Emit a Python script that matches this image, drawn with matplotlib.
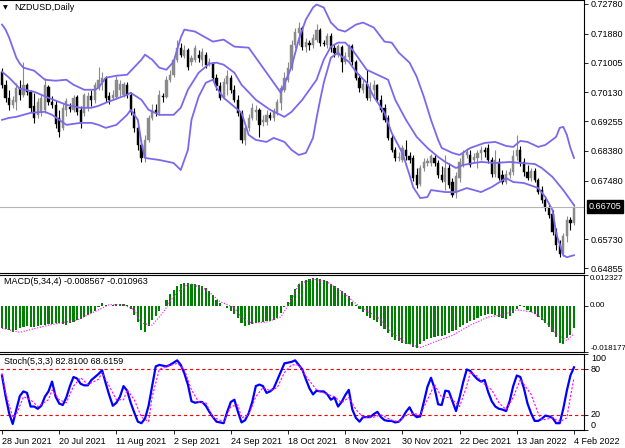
import matplotlib
matplotlib.use("Agg")
import matplotlib.pyplot as plt
import matplotlib.transforms as mtransforms
import numpy as np

plt.rcParams['font.family'] = ['Liberation Sans', 'DejaVu Sans']

# NZDUSD daily candles, 28 Jun 2021 .. 4 Feb 2022
opens = [0.7074, 0.7035, 0.6996, 0.6975, 0.6984, 0.7026, 0.7005, 0.7035, 0.7014, 0.6972,
         0.6945, 0.6954, 0.6960, 0.7029, 0.6984, 0.6975, 0.6936, 0.6906, 0.6960, 0.6969,
         0.6960, 0.6999, 0.6960, 0.6951, 0.6966, 0.7002, 0.6990, 0.7026, 0.7044, 0.7056,
         0.7002, 0.6996, 0.6999, 0.7020, 0.7005, 0.7035, 0.7005, 0.6954, 0.6906, 0.6855,
         0.6816, 0.6870, 0.6936, 0.6960, 0.6951, 0.7002, 0.6999, 0.7050, 0.7065, 0.7110,
         0.7146, 0.7122, 0.7140, 0.7104, 0.7110, 0.7125, 0.7110, 0.7125, 0.7101, 0.7101,
         0.7056, 0.7032, 0.6999, 0.7038, 0.7056, 0.7020, 0.6990, 0.6951, 0.6870, 0.6906,
         0.6936, 0.6954, 0.6960, 0.6924, 0.6924, 0.6945, 0.6936, 0.6954, 0.6981, 0.7020,
         0.7050, 0.7086, 0.7155, 0.7191, 0.7206, 0.7149, 0.7161, 0.7155, 0.7170, 0.7200,
         0.7161, 0.7155, 0.7182, 0.7146, 0.7125, 0.7149, 0.7104, 0.7119, 0.7152, 0.7104,
         0.7056, 0.7020, 0.7038, 0.6996, 0.7020, 0.7035, 0.6990, 0.6966, 0.6936, 0.6876,
         0.6840, 0.6816, 0.6810, 0.6840, 0.6822, 0.6816, 0.6765, 0.6738, 0.6786, 0.6801,
         0.6801, 0.6816, 0.6801, 0.6765, 0.6744, 0.6786, 0.6744, 0.6711, 0.6756, 0.6795,
         0.6825, 0.6825, 0.6810, 0.6816, 0.6831, 0.6840, 0.6846, 0.6810, 0.6768, 0.6804,
         0.6765, 0.6744, 0.6765, 0.6774, 0.6822, 0.6840, 0.6804, 0.6774, 0.6756, 0.6777,
         0.6750, 0.6720, 0.6690, 0.6666, 0.6648, 0.6594, 0.6555, 0.6531, 0.6582, 0.6630,
         0.6621]
highs = [0.7086, 0.7050, 0.7020, 0.7002, 0.7041, 0.7050, 0.7104, 0.7041, 0.7020, 0.7011,
         0.6996, 0.7005, 0.7056, 0.7035, 0.7002, 0.6990, 0.6960, 0.6978, 0.6996, 0.6981,
         0.7005, 0.7005, 0.6972, 0.7011, 0.7014, 0.7020, 0.7044, 0.7089, 0.7074, 0.7062,
         0.7014, 0.7020, 0.7062, 0.7050, 0.7044, 0.7044, 0.7014, 0.6966, 0.6915, 0.6870,
         0.6885, 0.6945, 0.6978, 0.6978, 0.7020, 0.7011, 0.7062, 0.7080, 0.7116, 0.7170,
         0.7161, 0.7155, 0.7146, 0.7125, 0.7155, 0.7140, 0.7146, 0.7134, 0.7116, 0.7104,
         0.7068, 0.7044, 0.7056, 0.7080, 0.7065, 0.7035, 0.7005, 0.6960, 0.6915, 0.6948,
         0.6981, 0.6975, 0.6966, 0.6945, 0.6960, 0.6954, 0.6966, 0.6993, 0.7035, 0.7074,
         0.7104, 0.7170, 0.7206, 0.7224, 0.7212, 0.7176, 0.7170, 0.7188, 0.7218, 0.7206,
         0.7170, 0.7191, 0.7191, 0.7158, 0.7158, 0.7155, 0.7134, 0.7158, 0.7158, 0.7110,
         0.7068, 0.7050, 0.7080, 0.7044, 0.7050, 0.7038, 0.7005, 0.6978, 0.6945, 0.6888,
         0.6849, 0.6834, 0.6855, 0.6870, 0.6834, 0.6825, 0.6786, 0.6795, 0.6816, 0.6816,
         0.6828, 0.6825, 0.6810, 0.6792, 0.6825, 0.6801, 0.6756, 0.6774, 0.6816, 0.6840,
         0.6846, 0.6840, 0.6831, 0.6840, 0.6852, 0.6849, 0.6858, 0.6819, 0.6840, 0.6816,
         0.6780, 0.6780, 0.6786, 0.6840, 0.6885, 0.6852, 0.6816, 0.6795, 0.6786, 0.6786,
         0.6756, 0.6732, 0.6702, 0.6678, 0.6660, 0.6606, 0.6570, 0.6591, 0.6642, 0.6639,
         0.6678]
lows = [0.7026, 0.6984, 0.6960, 0.6966, 0.6960, 0.6990, 0.6999, 0.7005, 0.6954, 0.6921,
        0.6936, 0.6942, 0.6951, 0.6975, 0.6966, 0.6906, 0.6879, 0.6900, 0.6942, 0.6954,
        0.6954, 0.6945, 0.6906, 0.6942, 0.6957, 0.6972, 0.6981, 0.7020, 0.7020, 0.6984,
        0.6978, 0.6990, 0.6993, 0.7002, 0.6999, 0.6996, 0.6945, 0.6894, 0.6840, 0.6804,
        0.6804, 0.6864, 0.6930, 0.6942, 0.6945, 0.6984, 0.6996, 0.7044, 0.7059, 0.7104,
        0.7119, 0.7116, 0.7080, 0.7095, 0.7104, 0.7104, 0.7092, 0.7086, 0.7092, 0.7050,
        0.7020, 0.6990, 0.6993, 0.7005, 0.7011, 0.6984, 0.6942, 0.6861, 0.6855, 0.6897,
        0.6930, 0.6930, 0.6879, 0.6912, 0.6915, 0.6930, 0.6927, 0.6945, 0.6960, 0.7014,
        0.7044, 0.7080, 0.7146, 0.7155, 0.7140, 0.7134, 0.7140, 0.7146, 0.7164, 0.7152,
        0.7152, 0.7146, 0.7134, 0.7119, 0.7119, 0.7074, 0.7098, 0.7110, 0.7095, 0.7050,
        0.7014, 0.7011, 0.6990, 0.6987, 0.7002, 0.6984, 0.6954, 0.6924, 0.6870, 0.6834,
        0.6807, 0.6807, 0.6804, 0.6810, 0.6801, 0.6747, 0.6726, 0.6732, 0.6777, 0.6792,
        0.6792, 0.6792, 0.6756, 0.6744, 0.6720, 0.6726, 0.6699, 0.6696, 0.6744, 0.6789,
        0.6816, 0.6789, 0.6804, 0.6786, 0.6810, 0.6819, 0.6801, 0.6759, 0.6759, 0.6750,
        0.6738, 0.6738, 0.6756, 0.6765, 0.6810, 0.6792, 0.6762, 0.6750, 0.6747, 0.6744,
        0.6708, 0.6681, 0.6657, 0.6636, 0.6585, 0.6540, 0.6519, 0.6522, 0.6564, 0.6600,
        0.6615]
closes = [0.7035, 0.6996, 0.6975, 0.6990, 0.7026, 0.7005, 0.7035, 0.7014, 0.6966, 0.6936,
          0.6984, 0.6996, 0.7035, 0.6984, 0.6975, 0.6918, 0.6894, 0.6966, 0.6987, 0.6963,
          0.6996, 0.6954, 0.6921, 0.7005, 0.7002, 0.6990, 0.7035, 0.7050, 0.7056, 0.6996,
          0.6990, 0.7005, 0.7050, 0.7038, 0.7038, 0.7005, 0.6954, 0.6906, 0.6855, 0.6816,
          0.6870, 0.6936, 0.6960, 0.6951, 0.7005, 0.6999, 0.7050, 0.7065, 0.7110, 0.7146,
          0.7125, 0.7140, 0.7089, 0.7116, 0.7146, 0.7116, 0.7134, 0.7095, 0.7104, 0.7056,
          0.7032, 0.6996, 0.7044, 0.7062, 0.7020, 0.6990, 0.6951, 0.6870, 0.6906, 0.6936,
          0.6966, 0.6960, 0.6915, 0.6930, 0.6945, 0.6936, 0.6954, 0.6984, 0.7026, 0.7056,
          0.7086, 0.7155, 0.7194, 0.7206, 0.7149, 0.7164, 0.7155, 0.7176, 0.7200, 0.7161,
          0.7158, 0.7182, 0.7146, 0.7131, 0.7152, 0.7104, 0.7122, 0.7152, 0.7104, 0.7056,
          0.7026, 0.7038, 0.6996, 0.7020, 0.7035, 0.6990, 0.6960, 0.6930, 0.6876, 0.6840,
          0.6816, 0.6819, 0.6846, 0.6822, 0.6810, 0.6756, 0.6735, 0.6786, 0.6804, 0.6807,
          0.6822, 0.6801, 0.6765, 0.6750, 0.6786, 0.6735, 0.6705, 0.6762, 0.6804, 0.6828,
          0.6834, 0.6795, 0.6819, 0.6831, 0.6840, 0.6834, 0.6810, 0.6768, 0.6810, 0.6756,
          0.6744, 0.6768, 0.6774, 0.6822, 0.6840, 0.6801, 0.6774, 0.6756, 0.6777, 0.6750,
          0.6714, 0.6690, 0.6666, 0.6645, 0.6594, 0.6555, 0.6528, 0.6582, 0.6630, 0.6621,
          0.66705]

# Bollinger bands, sampled at bar numbers
bb_up_idx = [0, 1, 2, 3, 4, 5, 6, 9, 12, 15, 18, 20, 23, 26, 27, 29, 32, 35, 39, 40, 42, 44, 46, 48,
             50, 51, 54, 57, 59, 62, 65, 69, 72, 76, 78, 81, 83, 85, 87, 88, 90, 92, 94, 96, 99,
             101, 104, 107, 109, 111, 114, 116, 118, 120, 122, 123, 126, 128, 131, 135, 138, 141,
             143, 145, 147, 150, 152, 155, 156, 157, 158, 159, 160]
bb_up = [0.7215, 0.7200, 0.7176, 0.7146, 0.7116, 0.7098, 0.7086, 0.7077, 0.7050, 0.7047, 0.7050,
         0.7035, 0.7020, 0.7020, 0.7026, 0.7056, 0.7062, 0.7065, 0.7110, 0.7125, 0.7110, 0.7086,
         0.7080, 0.7104, 0.7176, 0.7200, 0.7194, 0.7176, 0.7164, 0.7170, 0.7149, 0.7146, 0.7101,
         0.7041, 0.7011, 0.7089, 0.7170, 0.7230, 0.7266, 0.7275, 0.7266, 0.7221, 0.7200, 0.7194,
         0.7215, 0.7221, 0.7206, 0.7164, 0.7161, 0.7131, 0.7101, 0.7059, 0.6999, 0.6930, 0.6870,
         0.6846, 0.6831, 0.6825, 0.6846, 0.6861, 0.6864, 0.6852, 0.6849, 0.6867, 0.6864, 0.6849,
         0.6855, 0.6879, 0.6906, 0.6909, 0.6885, 0.6846, 0.6816]
bb_mid_idx = [0, 2, 5, 9, 13, 18, 22, 25, 27, 29, 32, 35, 36, 39, 41, 44, 48, 50, 52, 55, 58, 60,
              62, 65, 67, 71, 75, 79, 81, 84, 88, 90, 92, 94, 96, 98, 100, 102, 105, 108, 110,
              113, 116, 119, 122, 124, 127, 129, 132, 134, 138, 142, 145, 149, 151, 154, 157,
              158, 160]
bb_mid = [0.7074, 0.7056, 0.7023, 0.7014, 0.6996, 0.6975, 0.6966, 0.6966, 0.6972, 0.6981,
          0.6993, 0.7005, 0.7011, 0.6990, 0.6960, 0.6945, 0.6945, 0.6966, 0.7020, 0.7071,
          0.7098, 0.7101, 0.7095, 0.7071, 0.7035, 0.6990, 0.6960, 0.6939, 0.6954, 0.6990,
          0.7050, 0.7110, 0.7149, 0.7161, 0.7161, 0.7140, 0.7110, 0.7080, 0.7065, 0.7050,
          0.6990, 0.6930, 0.6879, 0.6846, 0.6819, 0.6804, 0.6786, 0.6795, 0.6801, 0.6804,
          0.6801, 0.6804, 0.6801, 0.6798, 0.6786, 0.6759, 0.6720, 0.6705, 0.6675]
bb_low_idx = [0, 2, 4, 8, 12, 14, 18, 22, 25, 27, 29, 32, 35, 36, 38, 39, 40, 44, 48, 50, 52,
              53, 55, 57, 59, 60, 62, 65, 67, 69, 71, 74, 76, 79, 81, 83, 85, 87, 88, 89, 90,
              92, 94, 95, 97, 99, 102, 104, 107, 109, 112, 114, 115, 117, 119, 120, 124, 127,
              130, 134, 137, 141, 143, 146, 150, 152, 154, 155, 157, 158, 160]
bb_low = [0.6930, 0.6936, 0.6939, 0.6951, 0.6954, 0.6945, 0.6915, 0.6921, 0.6921, 0.6915,
          0.6906, 0.6915, 0.6945, 0.6960, 0.6930, 0.6861, 0.6816, 0.6810, 0.6801, 0.6780,
          0.6840, 0.6930, 0.6999, 0.7041, 0.7050, 0.7026, 0.6996, 0.6969, 0.6951, 0.6885,
          0.6870, 0.6864, 0.6876, 0.6864, 0.6840, 0.6825, 0.6831, 0.6876, 0.6936, 0.6990,
          0.7041, 0.7116, 0.7131, 0.7119, 0.7104, 0.7074, 0.7041, 0.6999, 0.6951, 0.6891,
          0.6831, 0.6765, 0.6729, 0.6696, 0.6699, 0.6720, 0.6714, 0.6714, 0.6726, 0.6714,
          0.6729, 0.6756, 0.6744, 0.6741, 0.6726, 0.6699, 0.6660, 0.6591, 0.6525, 0.6519,
          0.6525]

# MACD(5,34,4): main as histogram, signal sampled
macd_main = [-0.00883, -0.00924, -0.00965, -0.01046, -0.00965, -0.00883, -0.00842, -0.00802, -0.00842, -0.00842,
             -0.00802, -0.00761, -0.00761, -0.00720, -0.00720, -0.00680, -0.00680, -0.00720, -0.00761, -0.00680,
             -0.00639, -0.00558, -0.00517, -0.00435, -0.00354, -0.00273, -0.00191, -0.00028, 0.00134, 0.00053,
             0.00012, 0.00053, 0.00094, 0.00094, 0.00094, 0.00053, -0.00110, -0.00354, -0.00639, -0.00965,
             -0.01046, -0.00802, -0.00558, -0.00395, -0.00191, 0.00012, 0.00256, 0.00460, 0.00623, 0.00786,
             0.00867, 0.00908, 0.00908, 0.00867, 0.00867, 0.00826, 0.00786, 0.00704, 0.00582, 0.00419,
             0.00256, 0.00134, 0.00012, -0.00069, -0.00191, -0.00313, -0.00476, -0.00680, -0.00802, -0.00761,
             -0.00720, -0.00680, -0.00639, -0.00639, -0.00598, -0.00598, -0.00558, -0.00476, -0.00273, -0.00028,
             0.00175, 0.00419, 0.00663, 0.00867, 0.00989, 0.01030, 0.01071, 0.01111, 0.01111, 0.01071,
             0.01030, 0.00989, 0.00867, 0.00786, 0.00704, 0.00582, 0.00501, 0.00379, 0.00175, 0.00053,
             -0.00110, -0.00232, -0.00395, -0.00476, -0.00558, -0.00639, -0.00802, -0.00924, -0.01087, -0.01249,
             -0.01372, -0.01412, -0.01453, -0.01494, -0.01494, -0.01616, -0.01656, -0.01494, -0.01412, -0.01331,
             -0.01290, -0.01249, -0.01209, -0.01209, -0.01168, -0.01087, -0.01005, -0.00965, -0.00842, -0.00761,
             -0.00680, -0.00598, -0.00558, -0.00476, -0.00395, -0.00354, -0.00313, -0.00313, -0.00354, -0.00435,
             -0.00476, -0.00517, -0.00395, -0.00273, -0.00110, 0.00053, -0.00028, -0.00151, -0.00232, -0.00313,
             -0.00435, -0.00558, -0.00680, -0.00842, -0.01046, -0.01249, -0.01453, -0.01494, -0.01290, -0.01168,
             -0.008567]
macd_sig_idx = [0, 5, 13, 21, 27, 30, 34, 37, 39, 42, 45, 48, 51, 53, 57, 61, 65, 67, 70, 74, 78,
                81, 83, 87, 91, 95, 100, 105, 109, 113, 117, 122, 126, 131, 136, 140, 144, 148,
                151, 155, 158, 160]
macd_sig = [-0.00883, -0.01046, -0.00761, -0.00558, -0.00151, 0.00053, 0.00053, -0.00151, -0.00680,
            -0.00761, -0.00273, 0.00379, 0.00786, 0.00867, 0.00663, 0.00175, -0.00069, -0.00476,
            -0.00680, -0.00639, -0.00435, 0.00256, 0.00867, 0.01071, 0.00948, 0.00582, -0.00028,
            -0.00435, -0.01046, -0.01453, -0.01656, -0.01372, -0.01168, -0.00761, -0.00435, -0.00354,
            -0.00151, -0.00232, -0.00476, -0.01087, -0.01372, -0.010963]

# Stochastic(5,3,3)
stoch_main = [72, 45, 22, 8, 27, 45, 51, 49, 31, 31, 28, 32, 44, 51, 64, 44, 35, 33, 43, 58,
              70, 68, 61, 59, 59, 66, 70, 74, 79, 62, 46, 32, 36, 44, 58, 52, 36, 23, 11, 9,
              15, 32, 58, 84, 86, 85, 84, 86, 89, 92, 86, 75, 60, 38, 36, 37, 37, 32, 24, 17,
              11, 10, 9, 24, 37, 40, 24, 10, 13, 22, 37, 58, 60, 58, 49, 51, 55, 66, 77, 88,
              89, 90, 92, 86, 80, 67, 55, 47, 52, 51, 51, 47, 40, 43, 31, 37, 46, 53, 27, 16,
              11, 17, 17, 17, 21, 24, 17, 13, 12, 12, 10, 11, 16, 24, 30, 21, 17, 18, 37, 57,
              69, 55, 34, 33, 52, 51, 38, 25, 43, 63, 80, 78, 72, 67, 64, 66, 50, 38, 31, 28,
              27, 25, 38, 58, 72, 70, 55, 35, 22, 12, 12, 15, 19, 18, 16, 9, 9, 28, 52, 72,
              82.81]
stoch_sig_idx = [0, 1, 3, 4, 6, 8, 10, 13, 14, 16, 18, 20, 22, 24, 27, 28, 30, 32, 34, 35, 37,
                 39, 41, 42, 44, 46, 49, 51, 53, 55, 57, 59, 62, 64, 66, 67, 69, 71, 73, 75, 77,
                 79, 81, 83, 85, 88, 90, 93, 95, 97, 99, 101, 104, 106, 109, 111, 113, 115, 117,
                 119, 121, 123, 125, 127, 128, 130, 131, 133, 134, 137, 139, 141, 143, 145, 148,
                 150, 151, 154, 156, 158, 159, 160]
stoch_sig = [75, 49, 17, 20, 44, 40, 31, 40, 53, 40, 36, 58, 69, 60, 67, 76, 58, 40, 40, 53, 40,
             17, 11, 44, 80, 84, 88, 80, 53, 37, 36, 17, 11, 31, 33, 16, 20, 44, 56, 52, 56,
             76, 86, 86, 71, 53, 49, 44, 36, 43, 27, 17, 17, 20, 13, 11, 20, 22, 20,
             40, 60, 43, 43, 36, 31, 58, 76, 71, 64, 53, 36, 27, 43, 67, 47,
             22, 13, 16, 11, 16, 44, 68.6159]

price_ticks = [0.72780, 0.71880, 0.71005, 0.70130, 0.69255, 0.68380, 0.67480, 0.65730, 0.64855]
last_price = 0.66705
date_idx = [0, 16, 32, 48, 64, 80, 96, 112, 128, 144, 160]
date_labels = ["28 Jun 2021", "20 Jul 2021", "11 Aug 2021", "2 Sep 2021", "24 Sep 2021",
               "18 Oct 2021", "8 Nov 2021", "30 Nov 2021", "22 Dec 2021", "13 Jan 2022",
               "4 Feb 2022"]

FS = 6.5
W, H = 625, 448


def box(x0, y0, x1, y1):
    return [x0 / W, 1 - y1 / H, (x1 - x0) / W, (y1 - y0) / H]


fig = plt.figure(figsize=(W / 100, H / 100), dpi=100)
ax = fig.add_axes(box(0, 0.5, 584, 273.3))
mac = fig.add_axes(box(0, 275, 584, 351.7), sharex=ax)
sto = fig.add_axes(box(0, 354.3, 584, 430), sharex=ax)

for a in (ax, mac, sto):
    a.spines['left'].set_visible(False)
    for s in ('top', 'bottom', 'right'):
        a.spines[s].set_linewidth(0.8)
    a.yaxis.tick_right()
    a.tick_params(axis='y', direction='out', length=3, width=0.6, labelsize=FS, pad=2)
    a.tick_params(axis='x', bottom=False, labelbottom=False)

# candles
x = np.arange(len(closes))
o = np.array(opens)
c = np.array(closes)
bull = c >= o
col = np.where(bull, '#8a8a8a', '#000000')
ax.vlines(x, lows, highs, colors=col, lw=0.8)
ax.bar(x, np.maximum(np.abs(c - o), 0.00006), 0.62, bottom=np.minimum(o, c),
       color=col, edgecolor=col, lw=0.3)

bb_col = '#7b68ee'
ax.plot(bb_up_idx, bb_up, color=bb_col, lw=1.3)
ax.plot(bb_mid_idx, bb_mid, color=bb_col, lw=1.3)
ax.plot(bb_low_idx, bb_low, color=bb_col, lw=1.3)

ax.axhline(last_price, color='#b4b4b4', lw=0.8)
ax.set_xlim(-0.56, 162.8)
ax.set_ylim(0.6471, 0.7287)
ax.set_yticks(price_ticks)
ax.set_yticklabels(['%.5f' % p for p in price_ticks])
tr = mtransforms.blended_transform_factory(ax.transAxes, ax.transData)
ax.text(1.008, last_price, '0.66705', transform=tr, ha='left', va='center', color='white',
        fontsize=FS, bbox=dict(facecolor='black', edgecolor='black', pad=1.3))

fig.text(5 / W, 1 - 8 / H, u'\u25bc', fontsize=4.5, ha='center', va='center',
         family='DejaVu Sans')
fig.text(14 / W, 1 - 8 / H, 'NZDUSD,Daily', fontsize=FS, ha='left', va='center')

# MACD
mac.bar(x, macd_main, 0.6, color='#008000', lw=0)
mac.plot(macd_sig_idx, macd_sig, color='#ff00ff', lw=0.8, ls=(0, (1, 1.5)))
mac.set_ylim(-0.018177, 0.012327)
mac.set_yticks([0.012327, 0.0, -0.018177])
mac.set_yticklabels(['0.012327', '0.00', '-0.018177'])
mac.tick_params(axis='y', labelsize=5.8, pad=1.5)
for lbl, va in zip(mac.get_yticklabels(), ['top', 'center', 'bottom']):
    lbl.set_va(va)
mac.text(4 / 584, 0.91, 'MACD(5,34,4) -0.008567 -0.010963', transform=mac.transAxes,
         fontsize=FS, ha='left', va='center')

# Stochastic
sto.axhline(80, color='#ff0000', lw=0.8, ls=(0, (3, 2.5)))
sto.axhline(20, color='#ff0000', lw=0.8, ls=(0, (3, 2.5)))
sto.plot(x, stoch_main, color='#0000ff', lw=1.6)
sto.plot(stoch_sig_idx, stoch_sig, color='#ff00ff', lw=0.8, ls=(0, (2, 1.5)))
sto.set_ylim(0, 100)
sto.set_yticks([100, 80, 20, 0])
sto.set_yticklabels(['100', '80', '20', '0'])
for lbl, va in zip(sto.get_yticklabels(), ['top', 'center', 'center', 'bottom']):
    lbl.set_va(va)
sto.text(4 / 584, 0.9, 'Stoch(5,3,3) 82.8100 68.6159', transform=sto.transAxes,
         fontsize=FS, ha='left', va='center')

sto.tick_params(axis='x', bottom=True, labelbottom=True, direction='out', length=3,
                width=0.6, labelsize=FS, pad=2)
sto.set_xticks(date_idx)
sto.set_xticklabels(date_labels, ha='left')

fig.savefig('out.png', dpi=100)
